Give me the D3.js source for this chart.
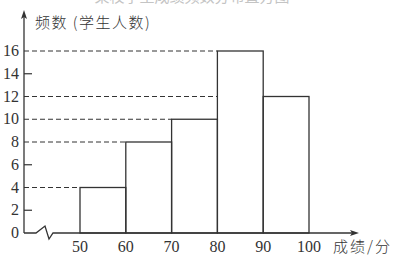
<!DOCTYPE html>
<html>
<head>
<meta charset="utf-8">
<script src="https://cdn.jsdelivr.net/npm/d3@7"></script>
<style>
  body { margin: 0; background: #fff; }
  svg { display: block; }
</style>
</head>
<body>
<div id="chart"></div>
<script>
// data
var binStarts = [50, 60, 70, 80, 90]
var binWidth = 10
var counts = [4, 8, 10, 16, 12]
var yTicks = [0, 2, 4, 6, 8, 10, 12, 14, 16]
var xTicks = [50, 60, 70, 80, 90, 100]
var dashedLevels = [4, 8, 10, 12, 16]

var width = 394, height = 258
var ink = "#333"
var serif = "'Liberation Serif', 'DejaVu Serif', serif"
var cjk = "'Noto Sans CJK SC', sans-serif"

var svg = d3.select("#chart").append("svg")
    .attr("width", width)
    .attr("height", height)

// scales
var x = d3.scaleLinear().domain([50, 100]).range([80, 309])
var y = d3.scaleLinear().domain([0, 16]).range([233, 51])
var x0 = 24

// title, mostly cut off at the top edge as in the scan
svg.append("text")
    .attr("x", 192).attr("y", 1.5)
    .attr("text-anchor", "middle")
    .style("font-family", cjk).style("font-size", "15px")
    .style("fill", "#c4c4c4")
    .text("某校学生成绩频数分布直方图")

// dashed guide lines, each ends at the first bar reaching that level
dashedLevels.forEach(function(v) {
  var i = counts.findIndex(function(c) { return c >= v })
  svg.append("line")
      .attr("x1", x0).attr("x2", x(binStarts[i]))
      .attr("y1", y(v)).attr("y2", y(v))
      .attr("stroke", ink).attr("stroke-width", 1)
      .attr("stroke-dasharray", "5,3")
})

// bars
svg.selectAll("rect.bar")
    .data(counts)
    .enter().append("rect")
    .attr("class", "bar")
    .attr("x", function(d, i) { return x(binStarts[i]) })
    .attr("y", function(d) { return y(d) })
    .attr("width", function(d, i) { return x(binStarts[i] + binWidth) - x(binStarts[i]) })
    .attr("height", function(d) { return y(0) - y(d) })
    .attr("fill", "none")
    .attr("stroke", ink)
    .attr("stroke-width", 1.3)

// y axis with arrow
svg.append("line")
    .attr("x1", x0).attr("x2", x0)
    .attr("y1", y(0)).attr("y2", 14)
    .attr("stroke", ink).attr("stroke-width", 1.3)
svg.append("path")
    .attr("d", "M" + x0 + ",10 L" + (x0 - 3) + ",19 L" + x0 + ",17 L" + (x0 + 3) + ",19 Z")
    .attr("fill", ink)

// y ticks
svg.selectAll("line.ytick")
    .data(yTicks.filter(function(v) { return v > 0 && dashedLevels.indexOf(v) < 0 }))
    .enter().append("line")
    .attr("class", "ytick")
    .attr("x1", x0).attr("x2", x0 + 8)
    .attr("y1", function(d) { return y(d) })
    .attr("y2", function(d) { return y(d) })
    .attr("stroke", ink).attr("stroke-width", 1.2)

svg.selectAll("text.ylab")
    .data(yTicks)
    .enter().append("text")
    .attr("class", "ylab")
    .attr("x", 19)
    .attr("y", function(d) { return y(d) + 5 })
    .attr("text-anchor", "end")
    .style("font-family", serif).style("font-size", "16px")
    .style("fill", ink)
    .text(function(d) { return d })

// x axis with break and arrow
var y0 = y(0)
svg.append("path")
    .attr("d", "M" + x0 + "," + y0 + " L36," + y0 + " L45," + (y0 - 7) +
               " L49," + (y0 + 6) + " L53," + y0 + " L354," + y0)
    .attr("fill", "none")
    .attr("stroke", ink).attr("stroke-width", 1.3)
svg.append("path")
    .attr("d", "M359," + y0 + " L350," + (y0 - 3) + " L352," + y0 + " L350," + (y0 + 3) + " Z")
    .attr("fill", ink)

svg.selectAll("text.xlab")
    .data(xTicks)
    .enter().append("text")
    .attr("class", "xlab")
    .attr("x", function(d) { return x(d) })
    .attr("y", 252)
    .attr("text-anchor", "middle")
    .style("font-family", serif).style("font-size", "16px")
    .style("fill", ink)
    .text(function(d) { return d })

// axis titles
svg.append("text")
    .attr("x", 35).attr("y", 28)
    .style("font-family", cjk).style("font-size", "15px")
    .style("font-weight", 300)
    .style("letter-spacing", "1.5px")
    .style("fill", ink)
    .text("频数 (学生人数)")

svg.append("text")
    .attr("x", 333).attr("y", 252)
    .style("font-family", cjk).style("font-size", "15px")
    .style("font-weight", 300)
    .style("letter-spacing", "2px")
    .style("fill", ink)
    .text("成绩/分")
</script>
</body>
</html>
